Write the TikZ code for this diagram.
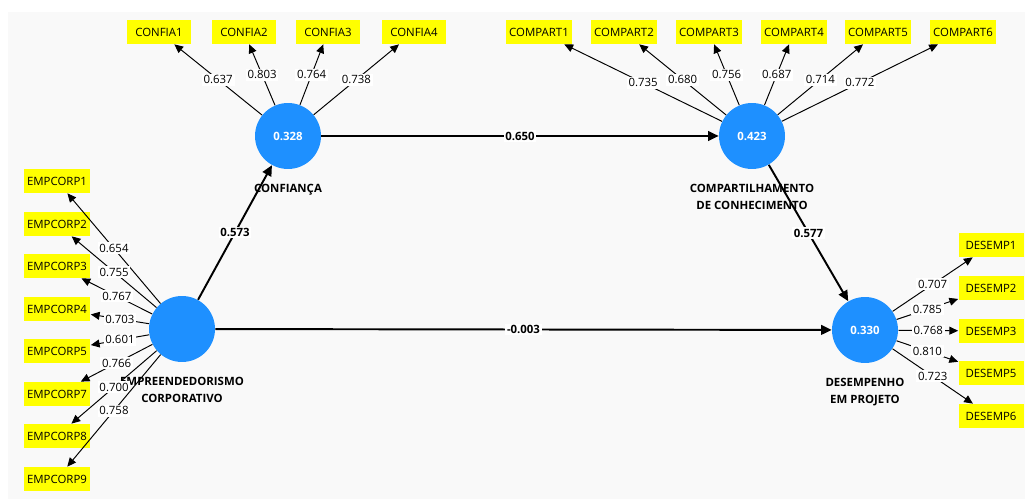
\documentclass[tikz,border=0pt]{standalone}
\usepackage{fontspec}
\setmainfont{Open Sans}
\usetikzlibrary{arrows.meta,positioning}
\definecolor{fundo}{RGB}{249,249,249}
\definecolor{azulpls}{RGB}{30,144,255}
\definecolor{amarelo}{RGB}{255,255,0}

\begin{document}
\begin{tikzpicture}[x = 0.02cm, y = -0.02cm,
  font = \fontsize{6.5}{10.2}\selectfont,
  lv/.style = {circle, fill = azulpls, minimum size = 1.32cm, inner sep = 0pt, text = white, font = \fontsize{6.5}{10.2}\selectfont\bfseries},
  lvnome/.style = {align = center, inner sep = 0pt, font = \fontsize{6.5}{10.2}\selectfont\bfseries},
  ind/.style = {fill = amarelo, minimum width = 1.3cm, minimum height = 0.48cm, inner xsep = 2pt, inner ysep = 0pt},
  carga/.style = {-{Triangle[length = 5pt, width = 4.5pt]}, line width = 0.55pt},
  caminho/.style = {-{Triangle[length = 6pt, width = 5.5pt]}, line width = 1.1pt},
  valor/.style = {fill = white, inner sep = 1pt},
  coef/.style = {fill = white, inner sep = 1pt, font = \fontsize{6.5}{10.2}\selectfont\bfseries}]
	\useasboundingbox (0,0) rectangle (1025,499);
	\fill[fundo] (8,12) rectangle (1025,499);
	\node[lv] (conf) at (288,136) {0.328};
	\node[lv] (comp) at (752,136) {0.423};
	\node[lv] (emp) at (182,329) {};
	\node[lv] (des) at (865,330) {0.330};
	\node[lvnome, below = 8pt of conf] (confnome) {CONFIANÇA};
	\node[lvnome, below = 8pt of comp] (compnome) {COMPARTILHAMENTO\\DE CONHECIMENTO};
	\node[lvnome, below = 8pt of emp] (empnome) {EMPREENDEDORISMO\\CORPORATIVO};
	\node[lvnome, below = 8pt of des] (desnome) {DESEMPENHO\\EM PROJETO};
	\node[ind] (conf1) at (159,32) {CONFIA1};
	\node[ind] (conf2) at (244,32) {CONFIA2};
	\node[ind] (conf3) at (328,32) {CONFIA3};
	\node[ind] (conf4) at (414,32) {CONFIA4};
	\node[ind] (comp1) at (539,32) {COMPART1};
	\node[ind] (comp2) at (624,32) {COMPART2};
	\node[ind] (comp3) at (709,32) {COMPART3};
	\node[ind] (comp4) at (794,32) {COMPART4};
	\node[ind] (comp5) at (878,32) {COMPART5};
	\node[ind] (comp6) at (963,32) {COMPART6};
	\node[ind] (emp1) at (57,181) {EMPCORP1};
	\node[ind] (emp2) at (57,224) {EMPCORP2};
	\node[ind] (emp3) at (57,266) {EMPCORP3};
	\node[ind] (emp4) at (57,309) {EMPCORP4};
	\node[ind] (emp5) at (57,351) {EMPCORP5};
	\node[ind] (emp7) at (57,394) {EMPCORP7};
	\node[ind] (emp8) at (57,436) {EMPCORP8};
	\node[ind] (emp9) at (57,479) {EMPCORP9};
	\node[ind] (des1) at (991,245) {DESEMP1};
	\node[ind] (des2) at (991,288) {DESEMP2};
	\node[ind] (des3) at (991,331) {DESEMP3};
	\node[ind] (des5) at (991,373) {DESEMP5};
	\node[ind] (des6) at (991,416) {DESEMP6};
	\draw[carga] (conf) -- node[valor] {0.637} (conf1);
	\draw[carga] (conf) -- node[valor] {0.803} (conf2);
	\draw[carga] (conf) -- node[valor] {0.764} (conf3);
	\draw[carga] (conf) -- node[valor] {0.738} (conf4);
	\draw[carga] (comp) -- node[valor] {0.735} (comp1);
	\draw[carga] (comp) -- node[valor] {0.680} (comp2);
	\draw[carga] (comp) -- node[valor] {0.756} (comp3);
	\draw[carga] (comp) -- node[valor] {0.687} (comp4);
	\draw[carga] (comp) -- node[valor] {0.714} (comp5);
	\draw[carga] (comp) -- node[valor] {0.772} (comp6);
	\draw[carga] (emp) -- node[valor] {0.654} (emp1);
	\draw[carga] (emp) -- node[valor] {0.755} (emp2);
	\draw[carga] (emp) -- node[valor] {0.767} (emp3);
	\draw[carga] (emp) -- node[valor] {0.703} (emp4);
	\draw[carga] (emp) -- node[valor] {0.601} (emp5);
	\draw[carga] (emp) -- node[valor] {0.766} (emp7);
	\draw[carga] (emp) -- node[valor] {0.700} (emp8);
	\draw[carga] (emp) -- node[valor] {0.758} (emp9);
	\draw[carga] (des) -- node[valor] {0.707} (des1);
	\draw[carga] (des) -- node[valor] {0.785} (des2);
	\draw[carga] (des) -- node[valor] {0.768} (des3);
	\draw[carga] (des) -- node[valor] {0.810} (des5);
	\draw[carga] (des) -- node[valor] {0.723} (des6);
	\draw[caminho] (emp) -- node[coef] {0.573} (conf);
	\draw[caminho] (conf) -- node[coef] {0.650} (comp);
	\draw[caminho] (comp) -- node[coef] {0.577} (des);
	\draw[caminho] (emp) -- node[coef] {-0.003} (des);
\end{tikzpicture}
\end{document}
